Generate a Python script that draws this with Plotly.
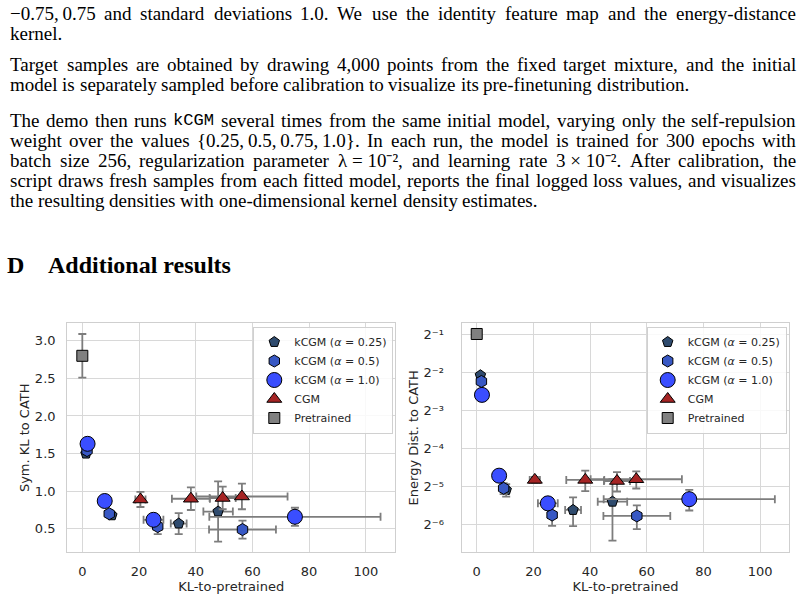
import re
import plotly.graph_objects as go

W, H = 805, 600

# ---------------- data ----------------
series_names = ["kCGM (<i>α</i> = 0.25)", "kCGM (<i>α</i> = 0.5)", "kCGM (<i>α</i> = 1.0)", "CGM", "Pretrained"]

kl_a025 = [1.3, 10.4, 34.0, 47.9]
kl_a025_err = [0.3, 1.0, 2.8, 5.2]
sym_a025 = [1.50, 0.68, 0.57, 0.73]
sym_a025_err = [0.03, 0.04, 0.14, 0.40]
ed_a025 = [0.236, 0.0292, 0.0203, 0.0236]
ed_a025_err = [0.005, 0.0033, 0.0052, 0.012]

kl_a05 = [1.65, 9.5, 26.6, 56.5]
kl_a05_err = [0.3, 1.0, 1.5, 11.8]
sym_a05 = [1.54, 0.70, 0.53, 0.49]
sym_a05_err = [0.03, 0.04, 0.10, 0.12]
ed_a05 = [0.2107, 0.0301, 0.0185, 0.0182]
ed_a05_err = [0.005, 0.003, 0.0033, 0.0039]

kl_a10 = [1.85, 7.9, 25.1, 75.0]
kl_a10_err = [0.3, 1.0, 3.5, 30.2]
sym_a10 = [1.63, 0.87, 0.62, 0.66]
sym_a10_err = [0.03, 0.05, 0.06, 0.12]
ed_a10 = [0.165, 0.0379, 0.0229, 0.0247]
ed_a10_err = [0.004, 0.002, 0.002, 0.0046]

kl_cgm = [20.5, 38.3, 49.5, 56.3]
kl_cgm_err = [1.8, 6.7, 4.6, 16.1]
sym_cgm = [0.89, 0.90, 0.91, 0.93]
sym_cgm_err = [0.10, 0.15, 0.15, 0.17]
ed_cgm = [0.0351, 0.0351, 0.0344, 0.0355]
ed_cgm_err = [0.002, 0.0065, 0.006, 0.0055]

kl_pre = [0.0]
kl_pre_err = [0.1]
sym_pre = [2.80]
sym_pre_err = [0.29]
ed_pre = [0.5]
ed_pre_err = [0.01]

x_ticks = [0, 20, 40, 60, 80, 100]
sym_ticks = [0.5, 1.0, 1.5, 2.0, 2.5, 3.0]
ed_tick_exps = [-1, -2, -3, -4, -5, -6]
ed_tick_text = ["2⁻¹", "2⁻²", "2⁻³", "2⁻⁴", "2⁻⁵", "2⁻⁶"]

# body text (justified lines flagged True); ~ joins a non-stretching token, `..` = monospace
TS = "\u2009"
body_lines = [
    (f"−0.75,{TS}0.75 and standard deviations 1.0. We use the identity feature map and the energy-distance", True),
    ("kernel.", False),
    ("Target samples are obtained by drawing 4,000 points from the fixed target mixture, and the initial", True),
    ("model is separately sampled before calibration to visualize its pre-finetuning distribution.", False),
    ("The demo then runs `kCGM` several times from the same initial model, varying only the self-repulsion", True),
    (f"weight over the values {{0.25,{TS}0.5,{TS}0.75,{TS}1.0}}. In each run, the model is trained for 300 epochs with", True),
    ("batch size 256, regularization parameter λ~=~10⁻², and learning rate 3~×~10⁻². After calibration, the", True),
    ("script draws fresh samples from each fitted model, reports the final logged loss values, and visualizes", True),
    ("the resulting densities with one-dimensional kernel density estimates.", False),
]
body_baselines = [19.5, 39.5, 70.5, 90.5, 126.5, 146.5, 166.5, 186.5, 206.5]
heading = ("D", "Additional results")

# ---------------- styling ----------------
FONT = "DejaVu Sans"
SERIF = "Liberation Serif"
TXT = "#262626"
GRID = "#d8d8d8"
ERRC = "#7d7d7d"

styles = [
    dict(symbol="pentagon", color="#2f4b6e", size=11),
    dict(symbol="hexagon", color="#3858c4", size=12),
    dict(symbol="circle", color="#3a4eff", size=15),
    dict(symbol="triangle-up", color="#a52424", size=13),
    dict(symbol="square", color="#808080", size=11),
]

left_sets = [
    (kl_a025, kl_a025_err, sym_a025, sym_a025_err),
    (kl_a05, kl_a05_err, sym_a05, sym_a05_err),
    (kl_a10, kl_a10_err, sym_a10, sym_a10_err),
    (kl_cgm, kl_cgm_err, sym_cgm, sym_cgm_err),
    (kl_pre, kl_pre_err, sym_pre, sym_pre_err),
]
right_sets = [
    (kl_a025, kl_a025_err, ed_a025, ed_a025_err),
    (kl_a05, kl_a05_err, ed_a05, ed_a05_err),
    (kl_a10, kl_a10_err, ed_a10, ed_a10_err),
    (kl_cgm, kl_cgm_err, ed_cgm, ed_cgm_err),
    (kl_pre, kl_pre_err, ed_pre, ed_pre_err),
]

fig = go.Figure()


def add_traces(sets, xa, ya, legend):
    for name, st, (x, xe, y, ye) in zip(series_names, styles, sets):
        fig.add_trace(go.Scatter(
            x=x, y=y, mode="markers", name=name, xaxis=xa, yaxis=ya, legend=legend,
            marker=dict(symbol=st["symbol"], color=st["color"], size=st["size"],
                        line=dict(color="black", width=1)),
            error_x=dict(type="data", array=xe, visible=True, color=ERRC, thickness=1.8, width=4),
            error_y=dict(type="data", array=ye, visible=True, color=ERRC, thickness=1.8, width=4),
        ))


add_traces(left_sets, "x", "y", "legend")
add_traces(right_sets, "x2", "y2", "legend2")


def px_x(p):
    return p / W


def px_y(p):
    return 1 - p / H


ax_common = dict(showgrid=True, gridcolor=GRID, gridwidth=1.3, showline=True, mirror=True,
                 linecolor="#cfcfcf", linewidth=1.3, zeroline=False, ticks="",
                 tickfont=dict(family=FONT, size=13, color=TXT))

xr = [-5.3, 110.3]
fig.update_layout(
    width=W, height=H, margin=dict(l=0, r=0, t=0, b=0),
    paper_bgcolor="white", plot_bgcolor="white",
    xaxis=dict(domain=[px_x(67.3), px_x(395)], range=xr, tickvals=x_ticks, anchor="y",
               ticklabelstandoff=7,
               title=dict(text="KL-to-pretrained", font=dict(family=FONT, size=13, color=TXT), standoff=3),
               **ax_common),
    yaxis=dict(domain=[px_y(552.3), px_y(323.3)], range=[0.188, 3.232], tickvals=sym_ticks,
               ticktext=[f"{v:.1f}" for v in sym_ticks], anchor="x", ticklabelstandoff=8,
               title=dict(text="Sym. KL to CATH", font=dict(family=FONT, size=13, color=TXT), standoff=2),
               **ax_common),
    xaxis2=dict(domain=[px_x(461.7), px_x(789.3)], range=xr, tickvals=x_ticks, anchor="y2",
                ticklabelstandoff=7,
                title=dict(text="KL-to-pretrained", font=dict(family=FONT, size=13, color=TXT), standoff=3),
                **ax_common),
    yaxis2=dict(domain=[px_y(552.3), px_y(323.3)], type="log",
                range=[-6.735 * 0.30103, -0.719 * 0.30103],
                tickvals=[2.0 ** e for e in ed_tick_exps],
                ticktext=ed_tick_text, anchor="x2",
                ticklabelstandoff=14,
                title=dict(text="Energy Dist. to CATH", font=dict(family=FONT, size=13, color=TXT), standoff=2),
                **ax_common),
    legend=dict(x=px_x(253.3), y=px_y(326.5), xanchor="left", yanchor="top",
                bgcolor="rgba(255,255,255,0.85)", bordercolor="#d0d0d0", borderwidth=1,
                font=dict(family=FONT, size=11, color=TXT), itemsizing="trace"),
    legend2=dict(x=px_x(646.7), y=px_y(326.5), xanchor="left", yanchor="top",
                 bgcolor="rgba(255,255,255,0.85)", bordercolor="#d0d0d0", borderwidth=1,
                 font=dict(family=FONT, size=11, color=TXT), itemsizing="trace"),
    showlegend=True,
)

# ---------------- body text as justified word annotations ----------------
TIMES = {' ': 250, '!': 333, '"': 408, '#': 500, '$': 500, '%': 833, '&': 778, "'": 333,
         '(': 333, ')': 333, '*': 500, '+': 564, ',': 250, '-': 333, '.': 250, '/': 278,
         ':': 278, ';': 278, '<': 564, '=': 564, '>': 564, '?': 444, '@': 921,
         '[': 333, ']': 333, '{': 480, '}': 480, '|': 200, '−': 564, '×': 564, 'λ': 520,
         '\u2009': 200, '⁻': 333, '²': 300,
         'A': 722, 'B': 667, 'C': 667, 'D': 722, 'E': 611, 'F': 556, 'G': 722, 'H': 722,
         'I': 333, 'J': 389, 'K': 722, 'L': 611, 'M': 889, 'N': 722, 'O': 722, 'P': 556,
         'Q': 722, 'R': 667, 'S': 556, 'T': 611, 'U': 722, 'V': 722, 'W': 944, 'X': 722,
         'Y': 722, 'Z': 611,
         'a': 444, 'b': 500, 'c': 444, 'd': 500, 'e': 444, 'f': 333, 'g': 500, 'h': 500,
         'i': 278, 'j': 278, 'k': 500, 'l': 278, 'm': 778, 'n': 500, 'o': 500, 'p': 500,
         'q': 500, 'r': 333, 's': 389, 't': 278, 'u': 500, 'v': 500, 'w': 722, 'x': 500,
         'y': 500, 'z': 444}

BODY_SIZE = 19.0
LEFT, RIGHT = 10.0, 796.0


def tok_width(tok, size):
    mono = tok.startswith("`")
    t = tok.strip("`").replace("~", " ")
    total = 0.0
    for ch in t:
        total += 600 * 0.9 if mono else TIMES.get(ch, 500)
    return total * size / 1000.0


annotations = []
for (line, justify), base in zip(body_lines, body_baselines):
    toks = line.split(" ")
    widths = [tok_width(t, BODY_SIZE) for t in toks]
    if justify and len(toks) > 1:
        gap = (RIGHT - LEFT - sum(widths)) / (len(toks) - 1)
    else:
        gap = 0.25 * BODY_SIZE
    x = LEFT
    yc = base - 0.335 * BODY_SIZE
    for i, (t, w) in enumerate(zip(toks, widths)):
        mono = t.startswith("`")
        txt = t.strip("`").replace("~", " ")
        last = justify and i == len(toks) - 1 and len(toks) > 1
        annotations.append(dict(
            text=txt, xref="paper", yref="paper",
            x=px_x(RIGHT if last else x), y=px_y(yc),
            xanchor="right" if last else "left", yanchor="middle",
            showarrow=False, borderpad=0, borderwidth=0,
            font=dict(family="Liberation Mono" if mono else SERIF,
                      size=BODY_SIZE * (0.9 if mono else 1.0), color="black"),
        ))
        x += w + gap

HEAD_SIZE = 24
for txt, xpos in zip(heading, [7.3, 48.3]):
    annotations.append(dict(
        text=f"<b>{txt}</b>", xref="paper", yref="paper", x=px_x(xpos), y=px_y(273.5 - 0.335 * HEAD_SIZE),
        xanchor="left", yanchor="middle", showarrow=False, borderpad=0, borderwidth=0,
        font=dict(family=SERIF, size=HEAD_SIZE, color="black"),
    ))

fig.update_layout(annotations=annotations)
fig.write_html("out.html")
